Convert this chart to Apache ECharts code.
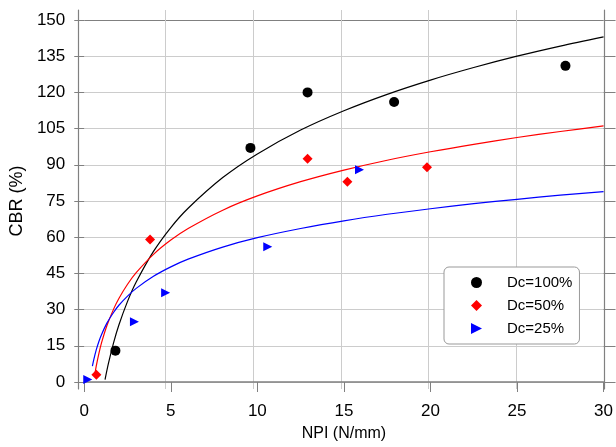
<!DOCTYPE html>
<html>
<head>
<meta charset="utf-8">
<script src="https://cdn.jsdelivr.net/npm/echarts@6/dist/echarts.min.js"></script>
<style>
  html, body { margin: 0; padding: 0; background: #fff; }
  #chart { width: 616px; height: 447px; }
</style>
</head>
<body>
<div id="chart"></div>
<script>
// Measured points: NPI (N/mm) vs CBR (%) for three compaction degrees
const npi100 = [1.8, 9.6, 12.9, 17.9, 27.8];
const cbr100 = [13, 97, 120, 116, 131];
const npi50 = [0.7, 3.8, 12.9, 15.2, 19.8];
const cbr50 = [3, 59, 92.5, 83, 89];
const npi25 = [0.2, 2.9, 4.7, 10.6, 15.9];
const cbr25 = [1, 25, 37, 56, 88];

// Trend curves (logarithmic fits) sampled along each line
const fitX100 = [1.2, 1.4, 1.7, 2, 2.5, 3, 4, 5, 6, 8, 10, 12.5, 15, 17.5, 20, 22.5, 25, 27.5, 30];
const fitY100 = [1.0, 7.8, 16.4, 23.6, 33.4, 41.4, 54.1, 64.0, 72.0, 84.7, 94.5, 104.4, 112.4, 119.2, 125.1, 130.3, 135.0, 139.2, 143.0];
const fitX50 = [0.62, 0.7, 0.85, 1, 1.3, 1.7, 2, 2.5, 3, 4, 5, 6, 8, 10, 12.5, 15, 17.5, 20, 22.5, 25, 27.5, 30];
const fitY50 = [3.7, 6.9, 12.0, 16.3, 23.2, 30.3, 34.6, 40.5, 45.3, 52.9, 58.8, 63.6, 71.2, 77.1, 83.0, 87.8, 91.9, 95.4, 98.5, 101.3, 103.8, 106.1];
const fitX25 = [0.47, 0.55, 0.7, 0.85, 1, 1.3, 1.7, 2, 2.5, 3, 4, 5, 6, 8, 10, 12.5, 15, 17.5, 20, 22.5, 25, 27.5, 30];
const fitY25 = [6.6, 9.3, 13.5, 16.9, 19.7, 24.3, 28.9, 31.8, 35.6, 38.8, 43.8, 47.7, 50.9, 55.9, 59.8, 63.6, 66.8, 69.5, 71.8, 73.9, 75.7, 77.4, 78.9];

const seriesNames = ['Dc=100%', 'Dc=50%', 'Dc=25%'];
const xTicks = { min: 0, max: 30, interval: 5 };
const yTicks = { min: 0, max: 150, interval: 15 };

const zip = (a, b) => a.map((v, i) => [v, b[i]]);

const FONT = 'Liberation Sans, Arial, sans-serif';
const AXIS = '#808080';
const GRID = '#cccccc';
const RIGHT_TRIANGLE = 'path://M0,0 L10,5 L0,10 Z';

// top line (150) drawn darker like the frame
const ySplitColors = [];
for (let v = yTicks.min; v <= yTicks.max; v += yTicks.interval) {
  ySplitColors.push(v === yTicks.max ? AXIS : GRID);
}

const chart = echarts.init(document.getElementById('chart'), null, { renderer: 'canvas' });

chart.setOption({
  animation: false,
  backgroundColor: '#ffffff',
  textStyle: { fontFamily: FONT },
  grid: [
    // frame grid: vertical grid lines and side axis lines reach a little above the plot
    { left: 78, right: 12, top: 10, bottom: 58 },
    // data grid
    { left: 78, right: 12, top: 20, bottom: 58 }
  ],
  xAxis: [
    {
      gridIndex: 0, type: 'value', min: xTicks.min, max: xTicks.max, interval: xTicks.interval,
      axisLine: { show: false }, axisTick: { show: false }, axisLabel: { show: false },
      splitLine: { show: true, lineStyle: { color: GRID, width: 1 } }
    },
    {
      gridIndex: 1, type: 'value', min: xTicks.min, max: xTicks.max, interval: xTicks.interval,
      name: 'NPI (N/mm)', nameLocation: 'middle', nameGap: 44,
      nameTextStyle: { fontSize: 16, color: '#000', fontFamily: FONT, verticalAlign: 'top' },
      axisLine: { show: true, onZero: false, lineStyle: { color: AXIS, width: 1.5 } },
      axisTick: { show: true, inside: false, length: 10, lineStyle: { color: AXIS } },
      axisLabel: { show: true, margin: 21, fontSize: 17, color: '#000', fontFamily: FONT },
      splitLine: { show: false }
    }
  ],
  yAxis: [
    {
      gridIndex: 0, type: 'value', min: 0, max: 1, position: 'left',
      axisLine: { show: true, onZero: false, lineStyle: { color: AXIS, width: 1.2 } },
      axisTick: { show: false }, axisLabel: { show: false }, splitLine: { show: false }
    },
    {
      gridIndex: 0, type: 'value', min: 0, max: 1, position: 'right',
      axisLine: { show: true, onZero: false, lineStyle: { color: AXIS, width: 1.2 } },
      axisTick: { show: false }, axisLabel: { show: false }, splitLine: { show: false }
    },
    {
      gridIndex: 1, type: 'value', min: yTicks.min, max: yTicks.max, interval: yTicks.interval,
      position: 'left',
      name: 'CBR (%)', nameLocation: 'middle', nameGap: 41,
      nameTextStyle: { fontSize: 18, color: '#000', fontFamily: FONT },
      axisLine: { show: false },
      axisTick: { show: true, inside: false, length: 10, lineStyle: { color: AXIS } },
      axisLabel: { show: true, margin: 19, fontSize: 17, color: '#000', fontFamily: FONT },
      splitLine: { show: true, lineStyle: { color: ySplitColors, width: 1 } }
    },
    {
      gridIndex: 1, type: 'value', min: yTicks.min, max: yTicks.max, interval: yTicks.interval,
      position: 'right',
      axisLine: { show: false },
      axisTick: { show: true, inside: false, length: 12, lineStyle: { color: AXIS } },
      axisLabel: { show: false }, splitLine: { show: false }
    }
  ],
  legend: {
    data: [
      { name: seriesNames[0], icon: 'circle' },
      { name: seriesNames[1], icon: 'diamond' },
      { name: seriesNames[2], icon: RIGHT_TRIANGLE }
    ],
    orient: 'vertical',
    left: 444, top: 267,
    padding: [8, 7, 8, 27],
    itemWidth: 11, itemHeight: 11, itemGap: 8,
    backgroundColor: '#ffffff',
    borderColor: '#999999', borderWidth: 1, borderRadius: 5,
    textStyle: { fontSize: 15, color: '#000', fontFamily: FONT, padding: [0, 0, 0, 20] }
  },
  series: [
    {
      name: 'fit100', type: 'line', xAxisIndex: 1, yAxisIndex: 2,
      data: zip(fitX100, fitY100), smooth: 0.3, showSymbol: false, silent: true,
      lineStyle: { color: '#000000', width: 1.2 }, z: 2
    },
    {
      name: 'fit50', type: 'line', xAxisIndex: 1, yAxisIndex: 2,
      data: zip(fitX50, fitY50), smooth: 0.3, showSymbol: false, silent: true,
      lineStyle: { color: '#ff0000', width: 1.2 }, z: 2
    },
    {
      name: 'fit25', type: 'line', xAxisIndex: 1, yAxisIndex: 2,
      data: zip(fitX25, fitY25), smooth: 0.3, showSymbol: false, silent: true,
      lineStyle: { color: '#0000ff', width: 1.2 }, z: 2
    },
    {
      name: seriesNames[0], type: 'scatter', xAxisIndex: 1, yAxisIndex: 2,
      data: zip(npi100, cbr100), symbol: 'circle', symbolSize: 10,
      itemStyle: { color: '#000000', opacity: 1 }, z: 3
    },
    {
      name: seriesNames[1], type: 'scatter', xAxisIndex: 1, yAxisIndex: 2,
      data: zip(npi50, cbr50), symbol: 'diamond', symbolSize: 10,
      itemStyle: { color: '#ff0000', opacity: 1 }, z: 3
    },
    {
      name: seriesNames[2], type: 'scatter', xAxisIndex: 1, yAxisIndex: 2,
      data: zip(npi25, cbr25), symbol: RIGHT_TRIANGLE, symbolSize: 9,
      itemStyle: { color: '#0000ff', opacity: 1 }, z: 3
    }
  ]
});
</script>
</body>
</html>
